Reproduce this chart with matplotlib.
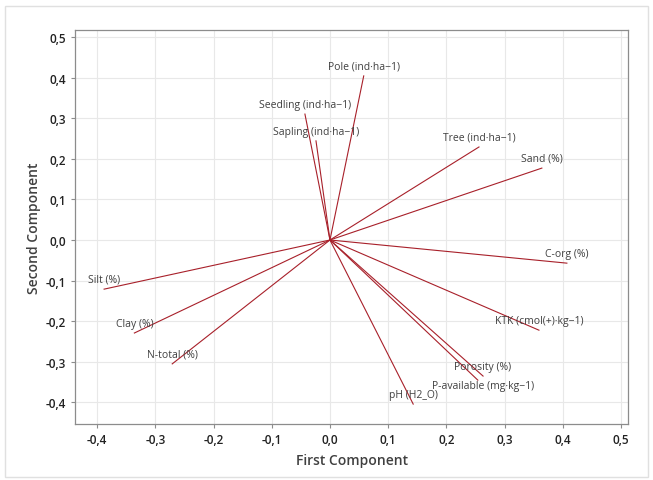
import matplotlib.pyplot as plt
from matplotlib.patches import Rectangle

# loading plot: first / second component loadings
variables = ["Pole (ind\u00b7ha\u22121)", "Seedling (ind\u00b7ha\u22121)", "Sapling (ind\u00b7ha\u22121)",
             "Tree (ind\u00b7ha\u22121)", "Sand (%)", "C-org (%)", "KTK (cmol(+)\u00b7kg\u22121)",
             "Porosity (%)", "P-available (mg\u00b7kg\u22121)", "pH (H2_O)",
             "Silt (%)", "Clay (%)", "N-total (%)"]
pc1 = [0.058, -0.043, -0.024, 0.256, 0.364, 0.407, 0.359, 0.263, 0.254, 0.143, -0.388, -0.336, -0.271]
pc2 = [0.404, 0.310, 0.244, 0.229, 0.177, -0.057, -0.222, -0.335, -0.345, -0.404, -0.121, -0.229, -0.305]

xticks = [-0.4, -0.3, -0.2, -0.1, 0.0, 0.1, 0.2, 0.3, 0.4, 0.5]
yticks = [-0.4, -0.3, -0.2, -0.1, 0.0, 0.1, 0.2, 0.3, 0.4, 0.5]

# label offsets in points (dx, dy) from the arrow tip
label_off = {"P-available (mg\u00b7kg\u22121)": (4, -8)}

plt.rcParams['font.family'] = ['Open Sans', 'DejaVu Sans']

fig = plt.figure(figsize=(6.53, 4.81), dpi=100)
fig.patches.append(Rectangle((5 / 653, 3 / 481), 643 / 653, 471 / 481, transform=fig.transFigure,
                             fill=False, edgecolor='#e0e0e0', linewidth=1))
ax = fig.add_axes([75 / 653, 1 - 425 / 481, 553 / 653, 394 / 481])

line_col = '#a8202a'
for name, x, y in zip(variables, pc1, pc2):
    ax.plot([0, x], [0, y], color=line_col, lw=0.8)
    dx, dy = label_off.get(name, (0, 3))
    ax.annotate(name, (x, y), xytext=(dx, dy), textcoords='offset points',
                ha='center', va='bottom', fontsize=7.5, color='#404040')

ax.set_xlim(-0.438, 0.512)
ax.set_ylim(-0.453, 0.517)
ax.set_xticks(xticks)
ax.set_yticks(yticks)
ax.set_xticklabels([f"{t:.1f}".replace('.', ',') for t in xticks])
ax.set_yticklabels([f"{t:.1f}".replace('.', ',') for t in yticks])
ax.grid(True, color='#e8e8e8', lw=0.8)
ax.set_axisbelow(True)
for s in ax.spines.values():
    s.set_color('#8c8c8c')
    s.set_linewidth(0.9)
ax.tick_params(colors='#8c8c8c', labelcolor='#222222', labelsize=8.5, length=3, width=0.8)
for lab in ax.get_xticklabels() + ax.get_yticklabels():
    lab.set_fontweight('semibold')

ax.set_xlabel('First Component', fontsize=10, fontweight='semibold', color='#404040', labelpad=5)
ax.set_ylabel('Second Component', fontsize=10, fontweight='semibold', color='#404040', labelpad=3)

fig.savefig('out.png', dpi=100)
